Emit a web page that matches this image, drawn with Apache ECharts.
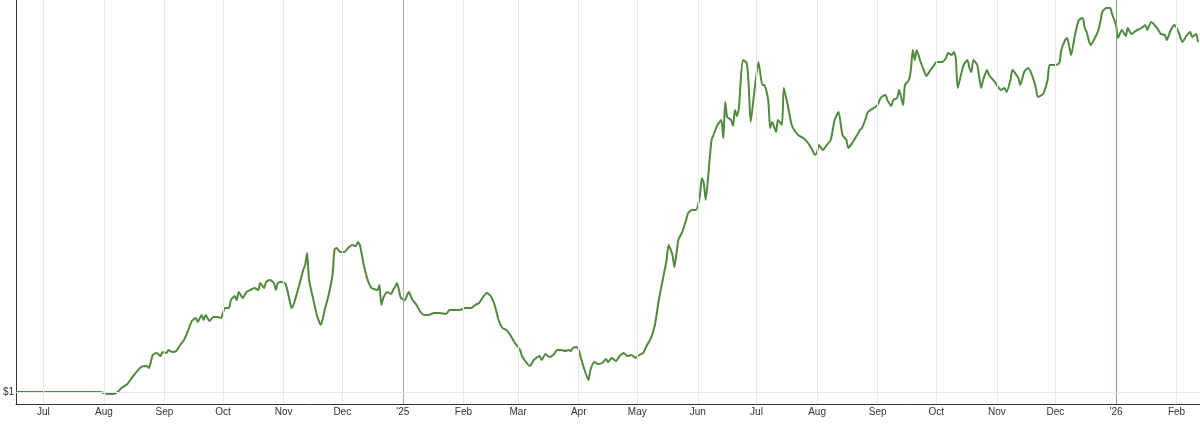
<!DOCTYPE html>
<html>
<head>
<meta charset="utf-8">
<script src="https://cdn.jsdelivr.net/npm/echarts@6/dist/echarts.min.js"></script>
<style>
  html, body { margin: 0; padding: 0; background: #fff; }
  #main { width: 1200px; height: 425px; }
</style>
</head>
<body>
<div id="main"></div>
<script>
// 起点日期, 数据点 = [距起点天数, 价值($)]
var startDate = Date.UTC(2024, 5, 17);
var endDate = Date.UTC(2026, 1, 13);
var points = [
  [0,1.00],[43,1.00],[47,0.98],[50,0.98],[52,1.00],[54,1.04],[57,1.08],[60,1.16],[64,1.25],[67,1.26],
  [68,1.24],[70,1.37],[72,1.39],[74,1.36],[75,1.40],[77,1.39],[78,1.42],[80,1.40],[82,1.41],[84,1.47],
  [86,1.52],[88,1.61],[90,1.71],[92,1.74],[93,1.70],[95,1.77],[96,1.72],[97,1.77],[98,1.74],[99,1.71],
  [101,1.75],[103,1.75],[105,1.74],[106,1.80],[107,1.84],[109,1.84],[110,1.92],[112,1.96],[113,1.92],[114,2.00],
  [116,1.94],[118,2.00],[120,2.02],[122,2.04],[124,2.02],[125,2.09],[127,2.04],[128,2.10],[130,2.12],[132,2.09],
  [133,2.02],[134,2.09],[136,2.10],[138,2.08],[140,1.92],[141,1.84],[142,1.87],[145,2.07],[147,2.22],[148,2.27],
  [149,2.39],[150,2.12],[152,1.94],[154,1.77],[156,1.67],[158,1.82],[160,1.97],[162,2.17],[163,2.42],[164,2.44],
  [166,2.40],[168,2.40],[170,2.44],[172,2.47],[174,2.46],[175,2.50],[176,2.47],[178,2.27],[180,2.12],[182,2.04],
  [185,2.02],[186,2.07],[187,1.87],[188,1.94],[190,2.00],[192,1.98],[193,2.02],[194,2.05],[195,2.09],[196,2.02],
  [197,1.94],[199,1.92],[201,2.00],[203,1.92],[205,1.87],[207,1.80],[209,1.77],[211,1.77],[214,1.79],[217,1.79],
  [220,1.78],[222,1.82],[227,1.82],[230,1.84],[233,1.84],[235,1.87],[237,1.89],[239,1.95],[241,1.99],[243,1.96],
  [245,1.87],[247,1.72],[249,1.64],[251,1.62],[253,1.57],[255,1.50],[257,1.45],[258,1.42],[259,1.36],[261,1.30],
  [263,1.26],[265,1.32],[268,1.36],[269,1.32],[271,1.38],[273,1.35],[275,1.37],[277,1.42],[279,1.42],[281,1.41],
  [283,1.42],[284,1.41],[285,1.44],[287,1.45],[288,1.42],[289,1.35],[291,1.22],[293,1.12],[294,1.22],[296,1.30],
  [298,1.28],[300,1.29],[302,1.33],[303,1.30],[305,1.34],[307,1.31],[309,1.36],[311,1.39],[313,1.36],[315,1.37],
  [317,1.34],[319,1.37],[321,1.39],[323,1.47],[325,1.54],[327,1.67],[329,1.92],[331,2.12],[333,2.32],[334,2.47],
  [336,2.37],[337,2.25],[339,2.52],[341,2.60],[343,2.72],[344,2.79],[346,2.82],[348,2.82],[350,2.96],[351,3.14],
  [352,3.09],[353,2.92],[355,3.32],[356,3.52],[357,3.57],[359,3.67],[361,3.72],[362,3.54],[363,3.90],[364,3.75],
  [366,3.72],[367,3.66],[368,3.82],[369,3.76],[370,3.84],[372,4.32],[374,4.29],[375,4.07],[376,3.70],[378,4.02],
  [380,4.30],[382,4.07],[383,4.07],[385,3.92],[386,3.64],[387,3.70],[389,3.60],[390,3.72],[392,3.67],[393,4.04],
  [395,3.87],[397,3.67],[399,3.60],[401,3.56],[403,3.54],[405,3.50],[407,3.44],[409,3.37],[410,3.40],[411,3.47],
  [413,3.42],[415,3.47],[417,3.52],[419,3.72],[421,3.80],[423,3.57],[425,3.52],[426,3.44],[428,3.49],[429,3.52],
  [432,3.62],[433,3.64],[435,3.74],[436,3.80],[439,3.84],[441,3.87],[442,3.92],[443,3.95],[445,3.97],[446,3.92],
  [448,3.86],[449,3.92],[451,3.94],[452,4.02],[454,3.87],[455,4.07],[457,4.12],[458,4.22],[459,4.42],[460,4.32],
  [461,4.42],[463,4.30],[465,4.20],[466,4.16],[468,4.22],[470,4.27],[471,4.30],[474,4.30],[476,4.34],[477,4.39],
  [479,4.37],[480,4.40],[481,4.34],[482,4.04],[484,4.20],[485,4.27],[487,4.32],[488,4.24],[489,4.20],[490,4.32],
  [492,4.27],[494,4.04],[495,4.12],[497,4.22],[498,4.17],[501,4.10],[503,4.04],[504,4.02],[506,4.04],[507,4.00],
  [509,4.12],[510,4.22],[513,4.14],[514,4.07],[516,4.20],[518,4.24],[520,4.17],[522,4.04],[523,3.95],[525,3.97],
  [526,3.99],[528,4.12],[529,4.27],[532,4.27],[534,4.29],[535,4.42],[537,4.52],[538,4.54],[540,4.37],[542,4.57],
  [544,4.72],[546,4.74],[547,4.64],[548,4.60],[549,4.52],[550,4.47],[553,4.57],[554,4.62],[555,4.70],[556,4.80],
  [558,4.84],[560,4.84],[561,4.78],[563,4.67],[564,4.54],[566,4.62],[568,4.56],[569,4.64],[571,4.58],[573,4.61],
  [576,4.64],[578,4.67],[579,4.62],[581,4.70],[584,4.64],[586,4.58],[588,4.57],[589,4.52],[591,4.62],[593,4.67],
  [595,4.60],[597,4.50],[599,4.56],[601,4.60],[602,4.55],[604,4.58],[605,4.50]
];
// 月份刻度
var monthDates = ['2024-07-01','2024-08-01','2024-09-01','2024-10-01','2024-11-01','2024-12-01','2025-01-01',
  '2025-02-01','2025-03-01','2025-04-01','2025-05-01','2025-06-01','2025-07-01','2025-08-01','2025-09-01',
  '2025-10-01','2025-11-01','2025-12-01','2026-01-01','2026-02-01'];
var monthLabels = ['Jul','Aug','Sep','Oct','Nov','Dec',"'25",'Feb','Mar','Apr','May','Jun','Jul','Aug','Sep',
  'Oct','Nov','Dec',"'26",'Feb'];
var yearColors = { "'25": '#aaaaaa', "'26": '#7fb070' };

var lineData = points.map(function (p) { return [startDate + p[0] * 86400000, p[1]]; });

var vLines = monthDates.map(function (d, i) {
  var lab = monthLabels[i];
  return {
    xAxis: d,
    lineStyle: { color: yearColors[lab] || '#e8e8e8', width: 1, type: 'solid' },
    label: { formatter: lab }
  };
});
vLines.push({ xAxis: startDate, lineStyle: { opacity: 0 }, label: { formatter: "'24" } });

var myChart = echarts.init(document.getElementById('main'));
myChart.setOption({
  animation: false,
  grid: { left: 16, right: 0, top: 0, bottom: 21 },
  xAxis: {
    type: 'time', min: startDate, max: endDate,
    axisLine: { lineStyle: { color: '#333', width: 1 } },
    axisTick: { show: false }, axisLabel: { show: false }, splitLine: { show: false }
  },
  yAxis: {
    type: 'value', min: 0.88, max: 4.92,
    axisLine: { show: true, lineStyle: { color: '#333', width: 1 } },
    axisTick: { show: false }, axisLabel: { show: false }, splitLine: { show: false }
  },
  series: [
    {
      type: 'line', data: [], silent: true,
      markLine: {
        symbol: 'none', silent: true, animation: false,
        label: { position: 'start', color: '#333', fontSize: 10, fontFamily: 'Arial', distance: 3 },
        data: vLines
      }
    },
    {
      type: 'line', data: lineData, showSymbol: false, smooth: 0.2,
      lineStyle: { color: '#4f8a3e', width: 2 },
      markLine: {
        symbol: 'none', silent: true, animation: false,
        lineStyle: { color: '#e8e8e8', width: 1, type: 'solid' },
        label: { position: 'start', color: '#333', fontSize: 10, fontFamily: 'Arial', formatter: '$1', distance: 2 },
        data: [{ yAxis: 1 }]
      }
    }
  ]
});
</script>
</body>
</html>
